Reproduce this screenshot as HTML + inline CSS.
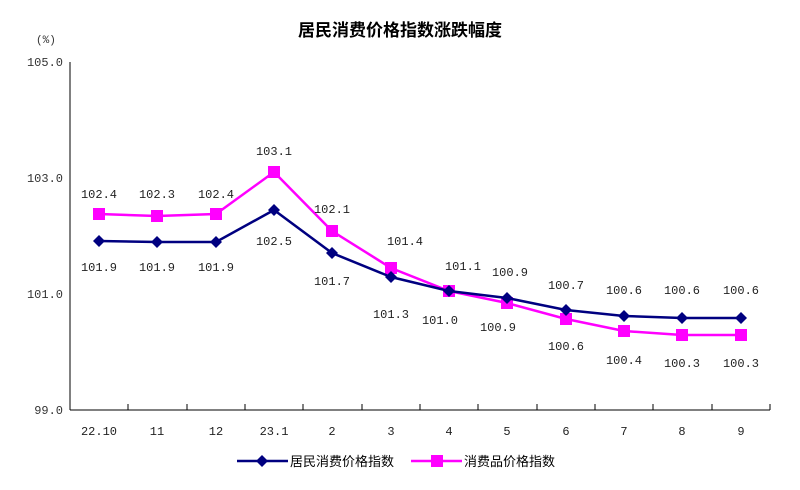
<!DOCTYPE html>
<html><head><meta charset="utf-8"><style>
body{margin:0;background:#fff;}
svg text{font-family:"Liberation Mono","Noto Serif CJK SC",monospace;}
</style></head><body>
<svg width="800" height="485" viewBox="0 0 800 485" xmlns="http://www.w3.org/2000/svg">
<text x="400" y="36" text-anchor="middle" font-size="17" font-weight="bold" style="font-family:'Noto Sans CJK SC',sans-serif">居民消费价格指数涨跌幅度</text>
<text x="36" y="43" font-size="11" fill="#333">(%)</text>
<g font-size="12" fill="#333" text-anchor="end">
<text x="63" y="66">105.0</text>
<text x="63" y="182">103.0</text>
<text x="63" y="298">101.0</text>
<text x="63" y="414">99.0</text>
</g>
<line x1="70" y1="62" x2="70" y2="410" stroke="#000"/>
<line x1="70" y1="410" x2="770" y2="410" stroke="#000"/>
<g stroke="#000">
<line x1="128" y1="404" x2="128" y2="410"/><line x1="187" y1="404" x2="187" y2="410"/><line x1="245" y1="404" x2="245" y2="410"/><line x1="303" y1="404" x2="303" y2="410"/><line x1="362" y1="404" x2="362" y2="410"/><line x1="420" y1="404" x2="420" y2="410"/><line x1="478" y1="404" x2="478" y2="410"/><line x1="537" y1="404" x2="537" y2="410"/><line x1="595" y1="404" x2="595" y2="410"/><line x1="653" y1="404" x2="653" y2="410"/><line x1="712" y1="404" x2="712" y2="410"/><line x1="770" y1="404" x2="770" y2="410"/>
</g>
<g font-size="12" fill="#222" text-anchor="middle">
<text x="99" y="435">22.10</text><text x="157" y="435">11</text><text x="216" y="435">12</text><text x="274" y="435">23.1</text><text x="332" y="435">2</text><text x="391" y="435">3</text><text x="449" y="435">4</text><text x="507" y="435">5</text><text x="566" y="435">6</text><text x="624" y="435">7</text><text x="682" y="435">8</text><text x="741" y="435">9</text>
</g>
<polyline fill="none" stroke="#ff00ff" stroke-width="2.5" points="99,214 157,216 216,214 274,172 332,231 391,268 449,291 507,303 566,319 624,331 682,335 741,335"/>
<g fill="#ff00ff">
<rect x="93" y="208" width="12" height="12"/><rect x="151" y="210" width="12" height="12"/><rect x="210" y="208" width="12" height="12"/><rect x="268" y="166" width="12" height="12"/><rect x="326" y="225" width="12" height="12"/><rect x="385" y="262" width="12" height="12"/><rect x="443" y="285" width="12" height="12"/><rect x="501" y="297" width="12" height="12"/><rect x="560" y="313" width="12" height="12"/><rect x="618" y="325" width="12" height="12"/><rect x="676" y="329" width="12" height="12"/><rect x="735" y="329" width="12" height="12"/>
</g>
<polyline fill="none" stroke="#000080" stroke-width="2.5" points="99,241 157,242 216,242 274,210 332,253 391,277 449,291 507,298 566,310 624,316 682,318 741,318"/>
<g fill="#000080">
<path d="M99,235l6,6-6,6-6-6z"/><path d="M157,236l6,6-6,6-6-6z"/><path d="M216,236l6,6-6,6-6-6z"/><path d="M274,204l6,6-6,6-6-6z"/><path d="M332,247l6,6-6,6-6-6z"/><path d="M391,271l6,6-6,6-6-6z"/><path d="M449,285l6,6-6,6-6-6z"/><path d="M507,292l6,6-6,6-6-6z"/><path d="M566,304l6,6-6,6-6-6z"/><path d="M624,310l6,6-6,6-6-6z"/><path d="M682,312l6,6-6,6-6-6z"/><path d="M741,312l6,6-6,6-6-6z"/>
</g>
<g font-size="12" fill="#222" text-anchor="middle">
<text x="99" y="198">102.4</text><text x="157" y="198">102.3</text><text x="216" y="198">102.4</text><text x="274" y="155">103.1</text><text x="332" y="213">102.1</text><text x="405" y="245">101.4</text><text x="463" y="270">101.1</text><text x="510" y="276">100.9</text><text x="566" y="289">100.7</text><text x="624" y="294">100.6</text><text x="682" y="294">100.6</text><text x="741" y="294">100.6</text>
<text x="99" y="271">101.9</text><text x="157" y="271">101.9</text><text x="216" y="271">101.9</text><text x="274" y="245">102.5</text><text x="332" y="285">101.7</text><text x="391" y="318">101.3</text><text x="440" y="324">101.0</text><text x="498" y="331">100.9</text><text x="566" y="350">100.6</text><text x="624" y="364">100.4</text><text x="682" y="367">100.3</text><text x="741" y="367">100.3</text>
</g>
<line x1="237" y1="461" x2="288" y2="461" stroke="#000080" stroke-width="2.5"/>
<path d="M262,455l6,6-6,6-6-6z" fill="#000080"/>
<text x="290" y="466" font-size="13" style="font-family:'Noto Sans CJK SC',sans-serif">居民消费价格指数</text>
<line x1="411" y1="461" x2="462" y2="461" stroke="#ff00ff" stroke-width="2.5"/>
<rect x="431" y="455" width="12" height="12" fill="#ff00ff"/>
<text x="464" y="466" font-size="13" style="font-family:'Noto Sans CJK SC',sans-serif">消费品价格指数</text>
</svg>
</body></html>
